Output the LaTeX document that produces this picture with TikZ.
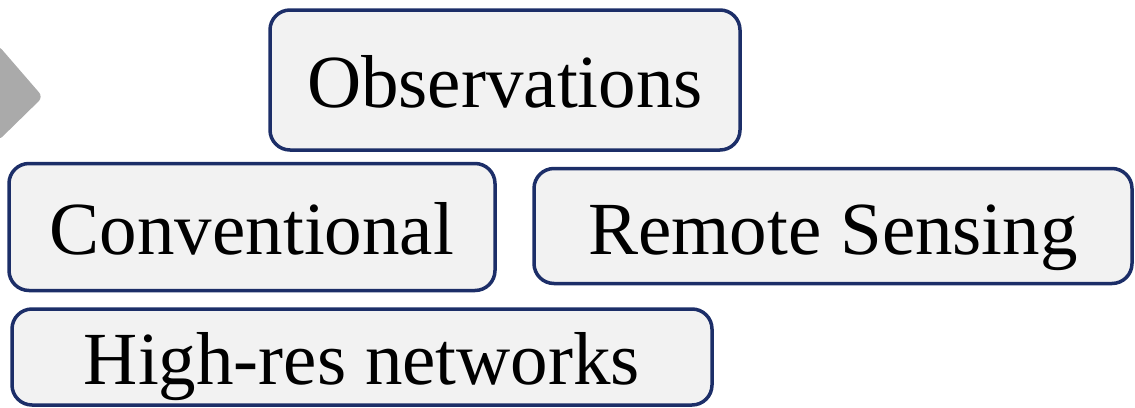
\documentclass[tikz,border=0pt]{standalone}
\usepackage{fontspec}
\setmainfont{Liberation Serif}
\definecolor{boxline}{RGB}{28,46,104}
\definecolor{boxfill}{RGB}{242,242,242}
\definecolor{chevron}{RGB}{170,170,170}
\tikzset{
  obsbox/.style={draw=boxline, fill=boxfill, line width=3.5pt,
    rounded corners=20pt, inner sep=0pt, anchor=center,
    text height=50pt, text depth=0pt,
    font=\fontsize{75}{80}\selectfont}
}
\begin{document}
\begin{tikzpicture}[x=1pt,y=1pt]
  \useasboundingbox (0,0) rectangle (1135,-407);
  % grey chevron at the left edge
  \fill[chevron, rounded corners=6pt] (-2,-45) -- (43,-97) -- (-2,-141) -- cycle;
  % category boxes
  \node[obsbox, minimum width=470pt, minimum height=140pt] (obs)
    at (505,-80) {\raisebox{-2pt}{Observations}};
  \node[obsbox, minimum width=486pt, minimum height=127pt] (conv)
    at (252,-227) {\raisebox{-2pt}{Conventional}};
  \node[obsbox, minimum width=598pt, minimum height=115pt] (rs)
    at (833,-226) {\raisebox{-3pt}{Remote Sensing}};
  \node[obsbox, minimum width=700pt, minimum height=96pt] (hires)
    at (362,-357) {\raisebox{-2pt}{High-res networks}};
\end{tikzpicture}
\end{document}
